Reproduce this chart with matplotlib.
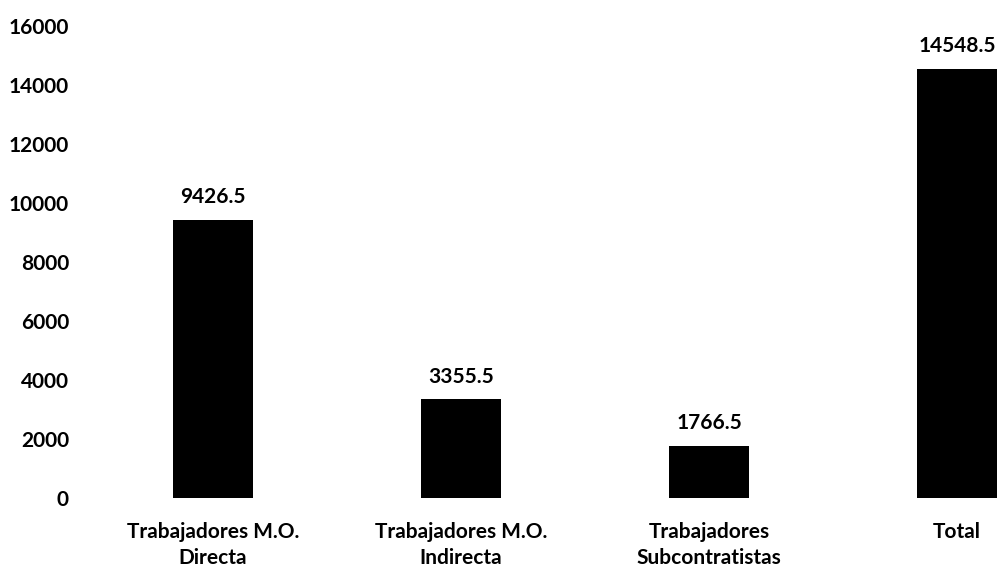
import numpy as np
import matplotlib
matplotlib.use("Agg")
import matplotlib.pyplot as plt

categorias = ["Trabajadores M.O.\nDirecta", "Trabajadores M.O.\nIndirecta",
              "Trabajadores\nSubcontratistas", "Total"]
valores = [9426.5, 3355.5, 1766.5, 14548.5]
etiquetas = ["9426.5", "3355.5", "1766.5", "14548.5"]
yticks = [0, 2000, 4000, 6000, 8000, 10000, 12000, 14000, 16000]

plt.rcParams['font.family'] = ['Lato', 'DejaVu Sans']

fig = plt.figure(figsize=(10.02, 5.66), dpi=100)
# axes placed in pixel terms: left 80px, bottom at y=498, top at y=26
ax = fig.add_axes([80/1002, (566-498)/566, 1 - 80/1002, (498-26)/566])

x = np.arange(len(categorias))
bars = ax.bar(x, valores, width=0.32, color="black")

for b, txt in zip(bars, etiquetas):
    ax.annotate(txt, (b.get_x() + b.get_width()/2, b.get_height()),
                xytext=(0, 9), textcoords="offset points",
                ha="center", va="bottom", fontsize=15, fontweight="bold")

ax.set_xlim(-0.536, 3.181)
ax.set_ylim(0, 16000)
ax.set_yticks(yticks)
ax.set_yticklabels([str(v) for v in yticks], fontsize=15, fontweight="bold")
ax.set_xticks(x)
ax.set_xticklabels(categorias, fontsize=15, fontweight="bold", linespacing=1.4)
ax.tick_params(axis="y", length=0, pad=8)
ax.tick_params(axis="x", length=0, pad=17)
for s in ax.spines.values():
    s.set_visible(False)

fig.savefig("out.png", dpi=100)
